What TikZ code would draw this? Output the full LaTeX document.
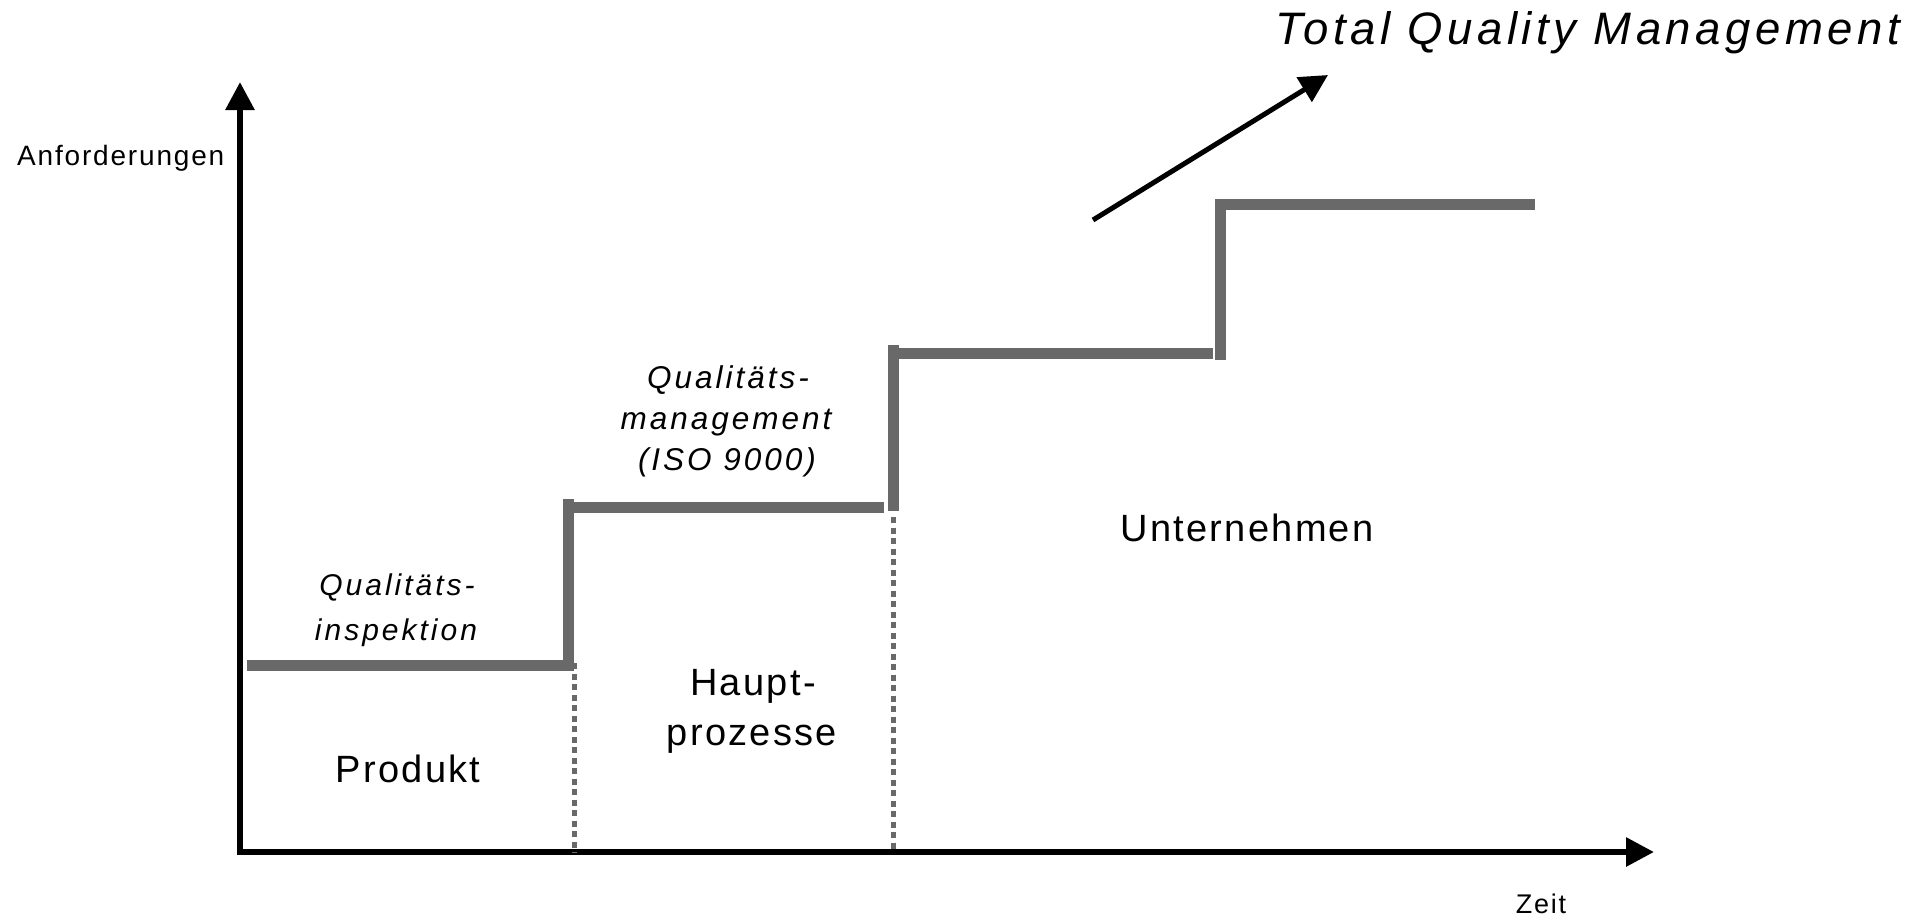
\documentclass[tikz,border=0pt]{standalone}
\usepackage{fontspec}
\setmainfont{Liberation Sans}
\usetikzlibrary{arrows.meta}
\definecolor{stepgray}{RGB}{105,105,105}
\begin{document}
\begin{tikzpicture}[x=1pt,y=-1pt,
  axis/.style={line width=6pt,-{Triangle[length=28pt,width=28pt]}},
  trend/.style={line width=5pt,-{Triangle[length=28pt,width=28pt]}},
  stair/.style={line width=11pt,stepgray},
  guide/.style={line width=5pt,stepgray,dash pattern=on 6pt off 4.5pt},
  lbl/.style={inner sep=0pt,anchor=base},
  small/.style={font=\fontsize{28}{34}\selectfont\addfontfeature{LetterSpace=6.5}},
  ital/.style={font=\fontsize{30}{36}\selectfont\itshape\addfontfeature{LetterSpace=10}},
  italb/.style={font=\fontsize{31.5}{38}\selectfont\itshape\addfontfeature{LetterSpace=9.5}},
  big/.style={font=\fontsize{38}{46}\selectfont\addfontfeature{LetterSpace=6}},
  title/.style={font=\fontsize{45.5}{54}\selectfont\itshape\addfontfeature{LetterSpace=10}}]
\useasboundingbox (0,0) rectangle (1928,919);
% axes
\coordinate (O) at (240,852);
\coordinate (O2) at (237,852);
\coordinate (ytip) at (240,82);
\coordinate (xtip) at (1654,852);
\draw[axis] (O) -- (ytip);
\draw[axis] (O2) -- (xtip);
% trend arrow
\coordinate (ts) at (1093,220);
\coordinate (te) at (1328,75);
\draw[trend] (ts) -- (te);
% stairs
\coordinate (h1a) at (247,665.5);  \coordinate (h1b) at (574,665.5);
\coordinate (v1a) at (568,671);    \coordinate (v1b) at (568,499);
\coordinate (h2a) at (568,507.5);  \coordinate (h2b) at (884,507.5);
\coordinate (v2a) at (893.5,511);  \coordinate (v2b) at (893.5,345);
\coordinate (h3a) at (893.5,353);  \coordinate (h3b) at (1213,353);
\coordinate (v3a) at (1220.5,360); \coordinate (v3b) at (1220.5,199);
\coordinate (h4a) at (1220.5,204.5); \coordinate (h4b) at (1535,204.5);
\draw[stair] (h1a) -- (h1b);
\draw[stair] (v1a) -- (v1b);
\draw[stair] (h2a) -- (h2b);
\draw[stair] (v2a) -- (v2b);
\draw[stair] (h3a) -- (h3b);
\draw[stair] (v3a) -- (v3b);
\draw[stair] (h4a) -- (h4b);
% guides
\coordinate (g1a) at (574,663); \coordinate (g1b) at (574,853);
\coordinate (g2a) at (893,517); \coordinate (g2b) at (893,850);
\draw[guide] (g1a) -- (g1b);
\draw[guide] (g2a) -- (g2b);
% labels
\node[lbl,small,anchor=base west] (anf) at (17,165) {Anforderungen};
\node[lbl,small,font=\fontsize{27}{32}\selectfont\addfontfeature{LetterSpace=6.5}] (zeit) at (1541,913) {Zeit};
\node[lbl,title,anchor=base west] (tqm) at (1275,44) {Total Quality Management};
\node[lbl,ital] (qi1) at (397,595) {Qualitäts-};
\node[lbl,ital] (qi2) at (396,640) {inspektion};
\node[lbl,italb] (qm1) at (728,388) {Qualitäts-};
\node[lbl,italb] (qm2) at (726,429) {management};
\node[lbl,italb] (qm3) at (727,470) {(ISO 9000)};
\node[lbl,big] (prod) at (408,782) {Produkt};
\node[lbl,big] (hp1) at (753,695) {Haupt-};
\node[lbl,big] (hp2) at (752,745) {prozesse};
\node[lbl,big] (unt) at (1247,541) {Unternehmen};
\end{tikzpicture}
\end{document}
